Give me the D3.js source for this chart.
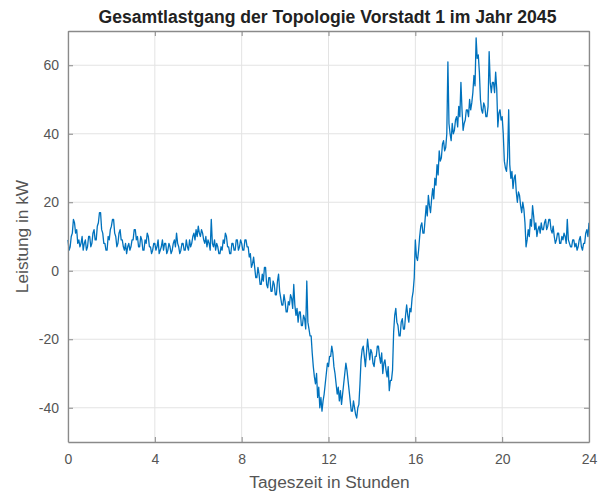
<!DOCTYPE html>
<html>
<head>
<meta charset="utf-8">
<script src="https://cdn.jsdelivr.net/npm/d3@7"></script>
<style>
  body { margin: 0; background: #fff; }
  text { font-family: "Liberation Sans", Arial, sans-serif; }
</style>
</head>
<body>
<div id="chart"></div>
<script>
// load profile, one value every 0.05 h (3 min), one row per hour, kW
const power = [
  9, 6, 7, 10, 11, 15, 14, 11, 12, 8, 9, 7, 8, 10, 6, 8, 9, 6, 7, 10,
  10, 7, 8, 11, 12, 9, 9, 13, 14, 17, 17, 12, 11, 8, 8, 6, 6, 10, 9, 12,
  13, 15, 15, 11, 10, 7, 8, 11, 12, 9, 9, 7, 6, 8, 5, 7, 8, 6, 7, 9,
  9, 12, 12, 9, 10, 7, 7, 10, 9, 6, 6, 9, 8, 11, 10, 7, 7, 5, 6, 8,
  8, 6, 7, 9, 5, 6, 7, 9, 6, 8, 8, 5, 6, 8, 7, 5, 6, 8, 9, 7,
  11, 8, 7, 5, 6, 8, 8, 6, 6, 9, 7, 6, 9, 7, 8, 10, 11, 9, 12, 10,
  13, 11, 10, 12, 11, 9, 8, 10, 7, 9, 8, 6, 15, 8, 7, 9, 6, 8, 7, 5,
  5, 7, 6, 9, 8, 11, 10, 7, 7, 5, 5, 8, 8, 6, 6, 9, 9, 6, 7, 9,
  8, 6, 6, 9, 9, 7, 7, 4, 5, 1, 2, 4, 1, -2, -2, 1, -1, -4, -4, -1,
  -3, 1, 1, -4, -5, -2, -2, -6, -6, -3, -4, -7, -7, -3, -1, -6, -8, -10, -10, -7,
  -9, -12, -12, -9, -10, -7, -8, -11, -4, -10, -13, -11, -15, -12, -12, -16, -16, -13, -14, -17,
  -3, -15, -17, -19, -19, -24, -28, -31, -33, -30, -37, -34, -40, -37, -41, -38, -36, -33, -30, -27,
  -28, -25, -25, -22, -24, -28, -30, -33, -36, -34, -38, -35, -39, -36, -33, -30, -27, -29, -32, -35,
  -38, -41, -41, -38, -40, -42, -43, -40, -39, -33, -26, -23, -22, -25, -28, -24, -20, -23, -26, -23,
  -24, -27, -28, -25, -25, -22, -22, -25, -27, -24, -30, -27, -26, -29, -31, -28, -35, -32, -32, -29,
  -18, -13, -11, -15, -16, -19, -19, -15, -14, -17, -17, -13, -10, -13, -15, -11, -12, -8, -6, -2,
  9, 4, 3, 6, 10, 13, 14, 11, 11, 15, 19, 16, 22, 19, 17, 21, 24, 21, 27, 25,
  31, 28, 35, 32, 33, 37, 38, 35, 36, 40, 61, 43, 40, 38, 43, 40, 41, 44, 45, 42,
  48, 45, 55, 47, 41, 43, 44, 47, 47, 45, 50, 47, 49, 52, 57, 54, 68, 62, 63, 58,
  50, 47, 46, 49, 48, 45, 45, 48, 64, 55, 52, 55, 55, 52, 58, 53, 42, 46, 47, 44,
  45, 40, 32, 30, 29, 33, 47, 31, 27, 29, 24, 27, 28, 23, 20, 23, 22, 19, 17, 20,
  18, 14, 7, 9, 12, 10, 15, 13, 19, 16, 12, 14, 10, 12, 13, 11, 14, 12, 12, 14,
  15, 12, 13, 15, 15, 12, 11, 13, 10, 8, 9, 11, 11, 8, 8, 10, 9, 11, 10, 8,
  15, 9, 8, 7, 7, 9, 9, 7, 8, 6, 7, 9, 10, 7, 6, 8, 8, 11, 12, 10,
  14
];
const hours = d3.range(power.length).map(i => i / 20);
const xTicks = [0, 4, 8, 12, 16, 20, 24];
const yTicks = [-40, -20, 0, 20, 40, 60];

const W = 601, H = 494;
const margin = {top: 31, right: 12, bottom: 52, left: 68};
const width = W - margin.left - margin.right;
const height = H - margin.top - margin.bottom;

const svg = d3.select("#chart").append("svg")
  .attr("width", W).attr("height", H);

const g = svg.append("g")
  .attr("transform", `translate(${margin.left},${margin.top})`);

const x = d3.scaleLinear().domain([0, 24]).range([0, width]);
const y = d3.scaleLinear().domain([-50, 70]).range([height, 0]);

// grid
g.append("g").selectAll("line").data(xTicks).enter().append("line")
  .attr("x1", d => x(d)).attr("x2", d => x(d))
  .attr("y1", 0).attr("y2", height)
  .attr("stroke", "#e3e3e3");
g.append("g").selectAll("line").data(yTicks).enter().append("line")
  .attr("x1", 0).attr("x2", width)
  .attr("y1", d => y(d)).attr("y2", d => y(d))
  .attr("stroke", "#e3e3e3");

// data line
const line = d3.line()
  .x((d, i) => x(hours[i]))
  .y(d => y(d));
g.append("path")
  .datum(power)
  .attr("fill", "none")
  .attr("stroke", "#0072BD")
  .attr("stroke-width", 1.3)
  .attr("stroke-linejoin", "round")
  .attr("d", line);

// axes (ticks inside, MATLAB style), plain hyphen for negatives
const fmt = d => String(d);
const axColor = "#8a8a8a";
const xAxis = g.append("g").attr("transform", `translate(0,${height})`)
  .call(d3.axisBottom(x).tickValues(xTicks).tickFormat(fmt).tickSizeInner(-5).tickSizeOuter(0).tickPadding(12));
const yAxis = g.append("g")
  .call(d3.axisLeft(y).tickValues(yTicks).tickFormat(fmt).tickSizeInner(-5).tickSizeOuter(0).tickPadding(9));
const xTop = g.append("g")
  .call(d3.axisTop(x).tickValues(xTicks).tickSizeInner(-5).tickSizeOuter(0).tickFormat(""));
const yRight = g.append("g").attr("transform", `translate(${width},0)`)
  .call(d3.axisRight(y).tickValues(yTicks).tickSizeInner(-5).tickSizeOuter(0).tickFormat(""));

[xAxis, yAxis, xTop, yRight].forEach(a => {
  a.select(".domain").attr("stroke", axColor).attr("stroke-width", 1.3);
  a.selectAll(".tick line").attr("stroke", axColor);
  a.selectAll("text")
    .attr("fill", "#555")
    .style("font-size", "14px")
    .style("font-family", "'Liberation Sans', Arial, sans-serif");
});

// title and labels
svg.append("text")
  .attr("x", margin.left + width / 2 - 1).attr("y", 23)
  .attr("text-anchor", "middle")
  .attr("fill", "#222")
  .style("font-size", "17.6px")
  .style("font-weight", "bold")
  .text("Gesamtlastgang der Topologie Vorstadt 1 im Jahr 2045");

svg.append("text")
  .attr("x", margin.left + width / 2 + 1).attr("y", 488)
  .attr("text-anchor", "middle")
  .attr("fill", "#555")
  .style("font-size", "17.3px")
  .text("Tageszeit in Stunden");

svg.append("text")
  .attr("transform", `translate(28,${margin.top + height / 2}) rotate(-90)`)
  .attr("text-anchor", "middle")
  .attr("fill", "#555")
  .style("font-size", "17.3px")
  .text("Leistung in kW");
</script>
</body>
</html>
